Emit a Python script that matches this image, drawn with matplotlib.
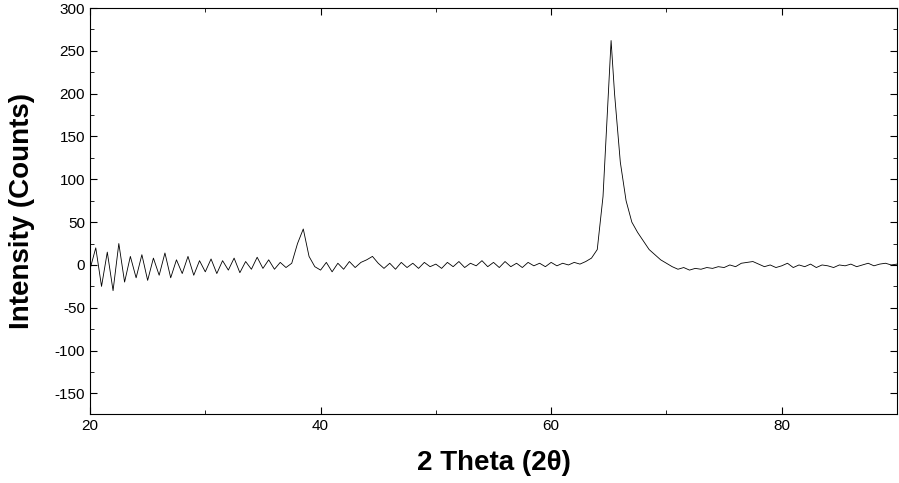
import matplotlib
matplotlib.use("Agg")
import matplotlib.pyplot as plt
from matplotlib.ticker import MultipleLocator

plt.rcParams['font.family'] = ['Liberation Sans', 'DejaVu Sans']
plt.rcParams['axes.unicode_minus'] = False

two_theta = [20,20.5,21,21.5,22,22.5,23,23.5,24,24.5,25,25.5,26,26.5,27,27.5,28,28.5,29,29.5,
             30,30.5,31,31.5,32,32.5,33,33.5,34,34.5,35,35.5,36,36.5,37,37.5,
             38,38.5,39,39.5,40,40.5,41,41.5,42,42.5,43,43.5,44,44.5,45,45.5,46,46.5,47,47.5,
             48,48.5,49,49.5,50,50.5,51,51.5,52,52.5,53,53.5,54,54.5,55,55.5,56,56.5,57,57.5,
             58,58.5,59,59.5,60,60.5,61,61.5,62,62.5,63,63.5,64,64.5,65,65.2,65.5,66,66.5,67,67.5,
             68,68.5,69,69.5,70,70.5,71,71.5,72,72.5,73,73.5,74,74.5,75,75.5,76,76.5,77,77.5,
             78,78.5,79,79.5,80,80.5,81,81.5,82,82.5,83,83.5,84,84.5,85,85.5,86,86.5,87,87.5,
             88,88.5,89,89.5,90]
intensity = [-5,20,-25,15,-30,25,-20,10,-15,12,-18,8,-12,14,-15,6,-10,10,-12,5,
             -8,7,-10,5,-6,8,-9,4,-5,9,-4,6,-5,3,-3,2,
             25,42,10,-2,-6,3,-8,2,-5,4,-3,3,6,10,2,-4,2,-5,3,-3,
             2,-4,3,-2,1,-4,3,-2,4,-3,2,-1,5,-2,3,-3,4,-2,2,-3,
             3,-1,2,-2,3,-1,2,0,3,1,4,8,18,80,210,262,200,120,75,50,38,
             28,18,12,6,2,-2,-5,-3,-6,-4,-5,-3,-4,-2,-3,0,-2,2,3,4,
             1,-2,0,-3,-1,2,-3,0,-2,1,-3,0,-1,-3,0,-1,1,-2,0,2,
             -1,1,2,0,1]

fig = plt.figure(figsize=(8.99, 4.83), dpi=100)
ax = fig.add_axes([90/899, 1-414/483, 807/899, 406/483])
ax.plot(two_theta, intensity, color='black', lw=0.6)
ax.set_xlim(20, 90)
ax.set_ylim(-174, 300)
ax.xaxis.set_major_locator(MultipleLocator(20))
ax.xaxis.set_minor_locator(MultipleLocator(10))
ax.yaxis.set_major_locator(MultipleLocator(50))
ax.yaxis.set_minor_locator(MultipleLocator(25))
ax.tick_params(which='both', direction='in', top=True, right=True, labelsize=11)
ax.tick_params(which='major', length=5)
ax.tick_params(which='minor', length=3)
ax.set_xlabel('2 Theta (2θ)', fontsize=20, fontweight='bold', labelpad=12)
ax.set_ylabel('Intensity (Counts)', fontsize=20, fontweight='bold', labelpad=14)
fig.savefig('out.png', dpi=100)
